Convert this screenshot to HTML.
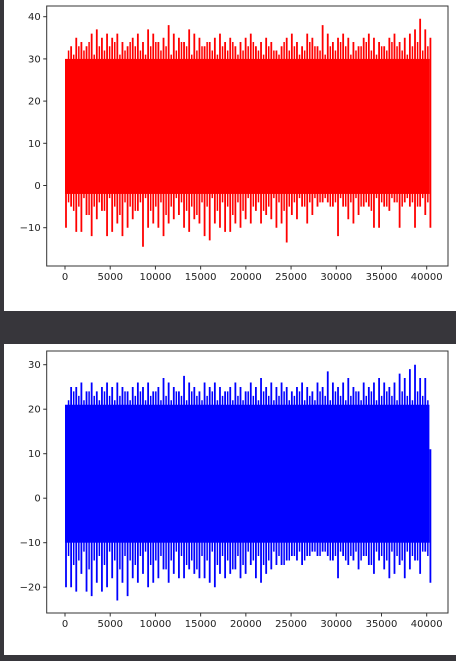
<!DOCTYPE html>
<html><head><meta charset="utf-8"><style>
html,body{margin:0;padding:0;background:#37363b;width:456px;height:661px;overflow:hidden}
svg{display:block}
text{font-family:"DejaVu Sans","Liberation Sans",sans-serif;font-size:10px;fill:#222}
</style></head><body>
<svg width="456" height="661">
<rect x="4" y="0" width="452" height="311" fill="#fff"/>
<rect x="4" y="344" width="452" height="311" fill="#fff"/>
<g id="c1"></g>
<g id="c2"></g>
</svg>
<script>
const xTicks=[0,5000,10000,15000,20000,25000,30000,35000,40000];
const redYTicks=[-10,0,10,20,30,40];
const blueYTicks=[-20,-10,0,10,20,30];
const redHighs=[25,33,35,34,33,36,37,35,36,35,36,34,33,35,36,34,37,36,34,35,38,36,35,34,37,36,35,33,34,35,36,34,35,33,34,35,36,33,34,35,34,32,33,35,36,34,33,36,35,33,38,36,34,35,36,35,34,33,35,36,35,34,33,35,36,34,35,36,37,39.5,37,35];
const redLows=[-10,-5,-11,-11,-7,-12,-8,-6,-12,-11,-9,-12,-10,-8,-6,-14.5,-10,-9,-10,-12,-9,-8,-7,-10,-11,-8,-9,-12,-13,-9,-10,-11,-11,-9,-10,-8,-9,-6,-9,-7,-8,-10,-9,-13.5,-7,-8,-5,-9,-7,-5,-4,-4,-5,-12,-5,-8,-9,-7,-5,-5,-10,-10,-5,-6,-4,-10,-4,-5,-10,-5,-7,-10];
const redMidHighs=[32,31,33,32,34,31,33,32,33,34,31,32,34,33,32,31,33,34,32,33,31,32,34,33,31,32,33,34,32,31,33,32,34,31,32,33,34,32,31,33,32,31,34,32,33,31,32,34,33,32,31,33,32,34,33,31,32,33,34,32,31,33,32,34,33,32,31,33,34,32,33,32];
const redMidLows=[-4,-6,-5,-3,-7,-5,-4,-6,-3,-5,-7,-4,-5,-6,-4,-3,-6,-5,-4,-7,-5,-3,-4,-6,-5,-7,-4,-5,-3,-6,-4,-5,-7,-4,-6,-3,-5,-4,-6,-5,-3,-4,-6,-5,-4,-3,-5,-4,-3,-4,-3,-5,-4,-3,-5,-4,-3,-5,-4,-6,-3,-4,-5,-3,-4,-5,-3,-4,-5,-3,-4,-5];
const redCore=[-2,30];
const blueHighs=[13,25,25,26,24,26,24,25,26,25,26,25,24,25,26,25,26,24,25,27,26,25,24,27.5,26,25,24,26,25,26,25,24,25,26,25,24,26,25,27,25,26,25,26,25,24,25,26,25,24,26,25,28.5,26,25,26,27,25,24,26,25,26,27,26,25,26,28,27,29,30,27,27,11];
const blueLows=[-20,-20,-21,-17,-21,-22,-19,-21,-20,-18,-23,-19,-22,-18,-19,-17,-20,-19,-18,-16,-19,-17,-18,-18,-16,-17,-18,-18,-19,-20,-17,-18,-17,-16,-18,-17,-15,-18,-19,-17,-16,-15,-15,-14,-13,-14,-15,-13,-12,-13,-12,-13,-14,-18,-13,-15,-14,-16,-13,-15,-17,-14,-16,-18,-17,-15,-18,-16,-14,-17,-12,-19];
const blueMidHighs=[22,24,23,22,24,23,22,24,23,22,23,24,22,23,24,22,23,24,22,23,22,24,23,22,24,23,22,23,24,22,23,24,22,23,22,24,23,22,24,23,22,23,24,22,23,24,22,23,22,24,23,22,24,23,22,23,24,22,23,24,22,23,24,23,22,24,23,22,24,23,22,23];
const blueMidLows=[-13,-15,-14,-12,-16,-14,-13,-15,-12,-14,-16,-13,-14,-15,-13,-12,-15,-14,-13,-16,-14,-12,-13,-15,-14,-16,-13,-14,-12,-15,-13,-14,-16,-13,-15,-12,-14,-13,-15,-14,-12,-13,-15,-14,-13,-12,-14,-13,-12,-13,-12,-14,-13,-12,-14,-13,-12,-14,-13,-15,-12,-13,-14,-12,-13,-14,-12,-13,-14,-12,-13,-14];
const blueCore=[-10,21];
const NS='http://www.w3.org/2000/svg';
function mk(p,t,a){const e=document.createElementNS(NS,t);for(const k in a)e.setAttribute(k,a[k]);p.appendChild(e);return e;}
function chart(g,cfg){
  const L=46.7,R=448,T=cfg.top,B=cfg.bot;
  const sx=v=>65+(v/40000)*(426.7-65);
  const sy=v=>cfg.y0-v*cfg.k;
  const n=Math.min(cfg.hi.length,cfg.lo.length);
  const xs=i=>sx(i*40300/(n-1));
  const core=mk(g,'rect',{x:sx(0),y:sy(cfg.core[1]),width:sx(40300)-sx(0),height:sy(cfg.core[0])-sy(cfg.core[1]),fill:cfg.col});
  
  
  const m=Math.min(cfg.mhi.length,cfg.mlo.length,n-1);
  for(let i=0;i<m;i++){
    const x=(xs(i)+xs(i+1))/2+1;
    const s=mk(g,'line',{x1:x,x2:x,y1:sy(cfg.mhi[i]),y2:sy(cfg.mlo[i]),stroke:cfg.col,'stroke-width':1.5});
    
    
  }
  for(let i=0;i<n;i++){
    const x=xs(i)+1;
    const s=mk(g,'line',{x1:x,x2:x,y1:sy(cfg.hi[i]),y2:sy(cfg.lo[i]),stroke:cfg.col,'stroke-width':1.8});
    
    
  }
  const fr=mk(g,'rect',{x:L,y:T,width:R-L,height:B-T,fill:'none',stroke:'#333','stroke-width':1});
  
  
  xTicks.forEach(v=>{
    const x=sx(v);
    const t=mk(g,'line',{x1:x,x2:x,y1:B,y2:B+3.5,stroke:'#333'});
    
    
    const tx=mk(g,'text',{x:x,y:B+14,'text-anchor':'middle'});tx.textContent=v;
    
    
  });
  cfg.yt.forEach(v=>{
    const y=sy(v);
    const t=mk(g,'line',{x1:L-3.5,x2:L,y1:y,y2:y,stroke:'#333'});
    
    
    const tx=mk(g,'text',{x:L-6,y:y+3.5,'text-anchor':'end'});tx.textContent=v<0?'\u2212'+(-v):v;
    
    
  });
}
chart(document.getElementById('c1'),{top:6,bot:266,y0:185.5,k:4.22,hi:redHighs,lo:redLows,mhi:redMidHighs,mlo:redMidLows,core:redCore,col:'#ff0000',yt:redYTicks});
chart(document.getElementById('c2'),{top:351,bot:613,y0:498.2,k:4.45,hi:blueHighs,lo:blueLows,mhi:blueMidHighs,mlo:blueMidLows,core:blueCore,col:'#0000ff',yt:blueYTicks});
</script>
</body></html>
